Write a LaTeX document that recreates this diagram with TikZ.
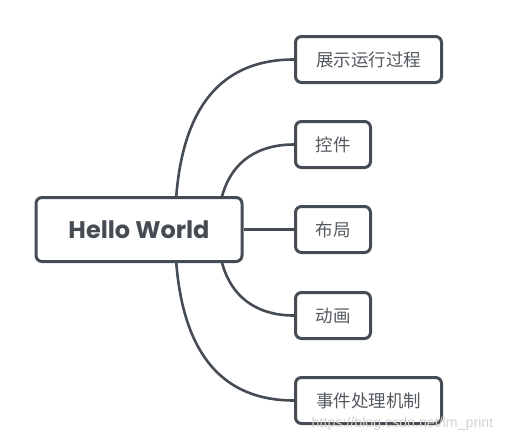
\documentclass[tikz,border=0pt]{standalone}
\usepackage{fontspec}
\newfontfamily\cjk{Noto Sans CJK SC}
\newfontfamily\pop{Poppins}
\newfontfamily\wm{Liberation Sans}
\usetikzlibrary{backgrounds}
\definecolor{ink}{HTML}{464C54}
\definecolor{txt}{HTML}{555A60}
\tikzset{
  box/.style={draw=ink, line width=3pt, rounded corners=6pt, fill=white, inner sep=0pt},
  leaf/.style={box, minimum height=46pt, font=\cjk\fontsize{17.5}{20}\selectfont, text=txt},
  link/.style={draw=ink, line width=2.6pt},
}
\begin{document}
\begin{tikzpicture}[x=1pt,y=-1pt]
\useasboundingbox (0,0) rectangle (514,442);
\node[box, minimum width=206pt, minimum height=64pt, font=\pop\bfseries\fontsize{24}{28}\selectfont, text=ink] (c) at (139,229.5) {Hello World};
\node[leaf, minimum width=146pt] (n1) at (368.5,59.5) {展示运行过程};
\node[leaf, minimum width=75pt] (n2) at (333,144.5) {控件};
\node[leaf, minimum width=75pt] (n3) at (333,229.5) {布局};
\node[leaf, minimum width=75pt] (n4) at (333,315.5) {动画};
\node[leaf, minimum width=146pt] (n5) at (368.5,400.5) {事件处理机制};
\coordinate (o) at (175,229.5);
\coordinate (i) at (218,229.5);
\begin{scope}[on background layer]
\draw[link] (o) .. controls +(0,-114) and +(-79,0) .. (n1.west);
\draw[link] (i) .. controls +(0,-60) and +(-44,0) .. (n2.west);
\draw[link] (c.east) -- (n3.west);
\draw[link] (i) .. controls +(0,60) and +(-44,0) .. (n4.west);
\draw[link] (o) .. controls +(0,114) and +(-79,0) .. (n5.west);
\end{scope}
\node[font=\wm\fontsize{14.2}{16}\selectfont, text=gray!35, inner sep=0pt] (w) at (402.5,424) {https://blog.csdn.net/lm\_print};
\end{tikzpicture}
\end{document}
